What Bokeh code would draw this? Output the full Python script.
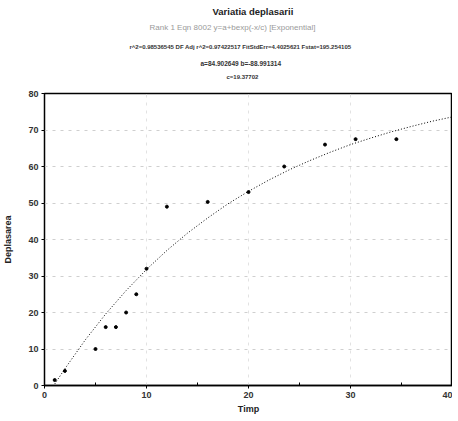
from bokeh.plotting import figure
from bokeh.models import Title, FixedTicker, Range1d
from bokeh.embed import file_html
from bokeh.resources import INLINE

# measured points
timp = [1, 2, 5, 6, 7, 8, 9, 10, 12, 16, 20, 23.5, 27.5, 30.5, 34.5]
deplasare = [1.5, 4, 10, 16, 16, 20, 25, 32, 49, 50.3, 53, 60, 66, 67.5, 67.5]

# fitted curve
curve_x = [1, 2, 4, 6, 8, 10, 12, 14, 16, 18, 20, 22, 24, 26, 28, 30, 32, 34, 36, 38, 40]
curve_y = [0.4, 4.6, 12.5, 19.6, 26.0, 31.8, 37.0, 41.7, 45.9, 49.8, 53.2, 56.3,
           59.1, 61.6, 63.9, 66.0, 67.8, 69.5, 71.0, 72.4, 73.6]

x_ticks = [0, 10, 20, 30, 40]
y_ticks = [0, 10, 20, 30, 40, 50, 60, 70, 80]

title_text = "Variatia deplasarii"
sub1 = "Rank 1  Eqn 8002  y=a+bexp(-x/c)  [Exponential]"
sub2 = "r^2=0.98536545  DF Adj r^2=0.97422517  FitStdErr=4.4025621  Fstat=195.254105"
sub3 = "a=84.902649 b=-88.991314"
sub4 = "c=19.37702"

FONT = "Liberation Sans"

p = figure(width=450, height=413, output_backend="svg", toolbar_location=None,
           x_range=Range1d(0, 40), y_range=Range1d(0, 80),
           frame_width=408, frame_height=292,
           min_border_left=42, min_border_right=0, min_border_bottom=0, min_border_top=0)


def spacer(s):
    p.add_layout(Title(text=" ", text_font_size="1px", standoff=s, text_color="white"), "above")


def line(txt, size, style, col, xoff):
    p.add_layout(Title(text=txt, align="left", text_font=FONT, text_font_size=size,
                       text_font_style=style, text_color=col, standoff=0, offset=xoff), "above")


spacer(11)
line(sub4, "6px", "bold", "#333333", 182)
spacer(1.5)
line(sub3, "6.5px", "bold", "#333333", 156)
spacer(4.5)
line(sub2, "6px", "bold", "#333333", 85)
spacer(7)
line(sub1, "8px", "normal", "#9a9a9a", 105)
spacer(0.5)
line(title_text, "9.5px", "bold", "#222222", 168)
spacer(0)

p.outline_line_color = "black"
p.outline_line_width = 1.5
p.background_fill_color = "white"
p.border_fill_color = "white"

p.xgrid.ticker = FixedTicker(ticks=x_ticks)
p.ygrid.ticker = FixedTicker(ticks=y_ticks)
p.xgrid.grid_line_color = "#e2e2e2"
p.ygrid.grid_line_color = "#cfcfcf"
p.grid.grid_line_dash = "3 5"
p.grid.grid_line_width = 1

p.xaxis.ticker = FixedTicker(ticks=x_ticks, minor_ticks=[5, 15, 25, 35])
p.yaxis.ticker = FixedTicker(ticks=y_ticks)
p.xaxis.axis_label = "Timp"
p.yaxis.axis_label = "Deplasarea"
for ax in (p.xaxis, p.yaxis):
    ax.axis_label_text_font = FONT
    ax.axis_label_text_font_size = "9px"
    ax.axis_label_text_font_style = "bold"
    ax.axis_label_text_color = "#222222"
    ax.major_label_text_font = FONT
    ax.major_label_text_font_size = "9px"
    ax.major_label_text_font_style = "bold"
    ax.major_label_text_color = "#333333"
    ax.axis_line_color = "black"
    ax.major_tick_line_color = "black"
    ax.minor_tick_line_color = "black"
    ax.major_tick_out = 3
    ax.major_tick_in = 0
    ax.minor_tick_out = 0
    ax.minor_tick_in = 3
    ax.major_label_standoff = 3
    ax.axis_label_standoff = 3
p.yaxis.axis_label_standoff = 12
p.xaxis.axis_line_width = 1.5
p.yaxis.axis_line_dash = "2 1"

p.line(curve_x, curve_y, line_color="black", line_width=1, line_dash="1 2")
p.scatter(timp, deplasare, size=3, color="black")

open("out.html", "w").write(file_html(p, INLINE))
